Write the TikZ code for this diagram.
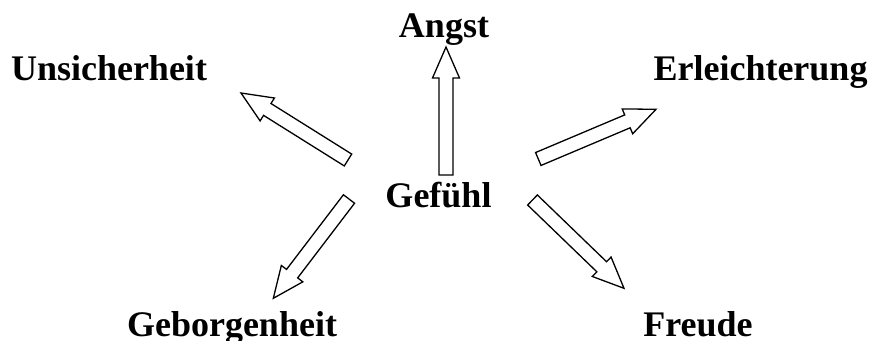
\documentclass[tikz,border=0pt]{standalone}
\usepackage{fontspec}
\setmainfont{Liberation Serif}
\usetikzlibrary{calc}

\tikzset{
  word/.style={font=\bfseries\fontsize{36}{40}\selectfont, inner sep=0pt, anchor=base},
  hollow arrow/.style={draw=black, fill=white, line width=1.3pt, line join=miter},
}

% Outlined block arrow from tail #1 to tip #2
\newcommand{\hollowarrow}[2]{%
  \coordinate (#1#2neck) at ($(#2)!31pt!(#1)$);
  \draw[hollow arrow]
    ($(#1)!7pt!90:(#2)$) -- ($(#1#2neck)!7pt!90:(#2)$) --
    ($(#1#2neck)!13.5pt!90:(#2)$) -- (#2) --
    ($(#1#2neck)!13.5pt!-90:(#2)$) -- ($(#1#2neck)!7pt!-90:(#2)$) --
    ($(#1)!7pt!-90:(#2)$) -- cycle;
}

\begin{document}
\begin{tikzpicture}[x=1pt, y=-1pt]
  \useasboundingbox (0,0) rectangle (870,340);

  % words
  \node[word] (gef) at (438.5,207) {Gefühl};
  \node[word] (ang) at (444,37) {Angst};
  \node[word] (uns) at (109,80) {Unsicherheit};
  \node[word] (erl) at (760.5,80) {Erleichterung};
  \node[word] (geb) at (232,336) {Geborgenheit};
  \node[word] (fre) at (698,336) {Freude};

  % arrow tails around the centre word and tips towards the outer words
  \coordinate (tA) at (446,175);   \coordinate (hA) at (446,47);
  \coordinate (tU) at (348,160);   \coordinate (hU) at (241,93);
  \coordinate (tE) at (538.3,159); \coordinate (hE) at (656,109.3);
  \coordinate (tG) at (349,199);   \coordinate (hG) at (273.3,298.3);
  \coordinate (tF) at (532.5,200); \coordinate (hF) at (624,288.3);

  \hollowarrow{tA}{hA}
  \hollowarrow{tU}{hU}
  \hollowarrow{tE}{hE}
  \hollowarrow{tG}{hG}
  \hollowarrow{tF}{hF}
\end{tikzpicture}
\end{document}
